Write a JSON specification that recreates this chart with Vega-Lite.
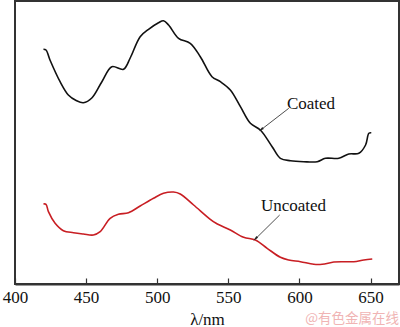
{
  "$schema": "https://vega.github.io/schema/vega-lite/v6.json",
  "width": 384,
  "height": 283,
  "autosize": {"type": "none"},
  "padding": {"left": 15, "top": 1, "right": 1, "bottom": 43},
  "background": "white",
  "config": {
    "view": {"stroke": "#333333", "strokeWidth": 2},
    "font": "Liberation Serif"
  },
  "title": {
    "text": "@有色金属在线",
    "orient": "bottom",
    "anchor": "end",
    "font": "Noto Sans CJK SC",
    "fontSize": 13.5,
    "fontWeight": "normal",
    "color": "#f0b4b4",
    "offset": -15
  },
  "datasets": {
    "spectra": [
      {"series": "Coated", "wl": 420, "v": 234.7},
      {"series": "Coated", "wl": 421.8, "v": 234},
      {"series": "Coated", "wl": 424.6, "v": 224},
      {"series": "Coated", "wl": 431.7, "v": 202.3},
      {"series": "Coated", "wl": 437.5, "v": 189},
      {"series": "Coated", "wl": 443, "v": 183.5},
      {"series": "Coated", "wl": 448.1, "v": 181.3},
      {"series": "Coated", "wl": 454, "v": 186},
      {"series": "Coated", "wl": 461.1, "v": 202.3},
      {"series": "Coated", "wl": 468.1, "v": 217.3},
      {"series": "Coated", "wl": 476.3, "v": 214.7},
      {"series": "Coated", "wl": 481, "v": 226},
      {"series": "Coated", "wl": 488, "v": 247.3},
      {"series": "Coated", "wl": 493.9, "v": 254.7},
      {"series": "Coated", "wl": 500.9, "v": 261.3},
      {"series": "Coated", "wl": 504.4, "v": 263.3},
      {"series": "Coated", "wl": 508, "v": 259},
      {"series": "Coated", "wl": 515, "v": 245.7},
      {"series": "Coated", "wl": 523.2, "v": 240.7},
      {"series": "Coated", "wl": 530.3, "v": 227.3},
      {"series": "Coated", "wl": 538.5, "v": 207.3},
      {"series": "Coated", "wl": 544.4, "v": 202.3},
      {"series": "Coated", "wl": 551.4, "v": 194},
      {"series": "Coated", "wl": 558.5, "v": 177.3},
      {"series": "Coated", "wl": 565.5, "v": 160.7},
      {"series": "Coated", "wl": 572.5, "v": 154},
      {"series": "Coated", "wl": 580.8, "v": 137.3},
      {"series": "Coated", "wl": 586.6, "v": 125.7},
      {"series": "Coated", "wl": 593.7, "v": 123.3},
      {"series": "Coated", "wl": 603, "v": 122.3},
      {"series": "Coated", "wl": 612.5, "v": 122.3},
      {"series": "Coated", "wl": 618.3, "v": 125.7},
      {"series": "Coated", "wl": 627.7, "v": 125.7},
      {"series": "Coated", "wl": 634.7, "v": 130},
      {"series": "Coated", "wl": 641.8, "v": 130.7},
      {"series": "Coated", "wl": 646.5, "v": 139},
      {"series": "Coated", "wl": 648.8, "v": 150.7},
      {"series": "Coated", "wl": 650.5, "v": 151.3},
      {"series": "Uncoated", "wl": 420, "v": 80},
      {"series": "Uncoated", "wl": 421.8, "v": 79.7},
      {"series": "Uncoated", "wl": 423.5, "v": 72.3},
      {"series": "Uncoated", "wl": 428.2, "v": 60.7},
      {"series": "Uncoated", "wl": 434, "v": 53.3},
      {"series": "Uncoated", "wl": 441.1, "v": 51.3},
      {"series": "Uncoated", "wl": 448.1, "v": 50},
      {"series": "Uncoated", "wl": 455.1, "v": 49},
      {"series": "Uncoated", "wl": 459.9, "v": 52.3},
      {"series": "Uncoated", "wl": 466.9, "v": 65.7},
      {"series": "Uncoated", "wl": 472.7, "v": 69.7},
      {"series": "Uncoated", "wl": 479.8, "v": 71.3},
      {"series": "Uncoated", "wl": 488, "v": 78},
      {"series": "Uncoated", "wl": 497.4, "v": 85.7},
      {"series": "Uncoated", "wl": 504.4, "v": 90.7},
      {"series": "Uncoated", "wl": 511.5, "v": 92},
      {"series": "Uncoated", "wl": 516.2, "v": 90},
      {"series": "Uncoated", "wl": 525.6, "v": 79},
      {"series": "Uncoated", "wl": 537.3, "v": 64.7},
      {"series": "Uncoated", "wl": 541.4, "v": 60.7},
      {"series": "Uncoated", "wl": 551.4, "v": 54},
      {"series": "Uncoated", "wl": 560.8, "v": 46.7},
      {"series": "Uncoated", "wl": 569, "v": 44},
      {"series": "Uncoated", "wl": 577.3, "v": 35.7},
      {"series": "Uncoated", "wl": 586.6, "v": 26.7},
      {"series": "Uncoated", "wl": 592.5, "v": 24},
      {"series": "Uncoated", "wl": 600.7, "v": 22.3},
      {"series": "Uncoated", "wl": 610.1, "v": 19.7},
      {"series": "Uncoated", "wl": 616, "v": 19.7},
      {"series": "Uncoated", "wl": 624.2, "v": 22},
      {"series": "Uncoated", "wl": 631.2, "v": 22.3},
      {"series": "Uncoated", "wl": 638.2, "v": 22.3},
      {"series": "Uncoated", "wl": 645.3, "v": 24},
      {"series": "Uncoated", "wl": 651.2, "v": 25}
    ]
  },
  "layer": [
    {
      "data": {"name": "spectra"},
      "mark": {"type": "line", "strokeWidth": 1.6, "interpolate": "catmull-rom"},
      "encoding": {
        "x": {
          "field": "wl",
          "type": "quantitative",
          "scale": {"domain": [400, 670], "nice": false, "zero": false},
          "axis": {
            "values": [400, 450, 500, 550, 600, 650],
            "title": "λ/nm",
            "titleFont": "Liberation Serif",
            "titleFontSize": 17,
            "titleFontWeight": "normal",
            "titleColor": "#111111",
            "titlePadding": 6,
            "labelFont": "Liberation Serif",
            "labelFontSize": 17,
            "labelColor": "#111111",
            "labelPadding": 11,
            "tickSize": -6,
            "tickColor": "#333333",
            "tickWidth": 1.2,
            "domainColor": "#333333",
            "domainWidth": 2,
            "grid": false,
            "labelFlush": false
          }
        },
        "y": {
          "field": "v",
          "type": "quantitative",
          "scale": {"domain": [0, 283], "nice": false, "zero": false},
          "axis": null
        },
        "color": {
          "field": "series",
          "type": "nominal",
          "scale": {"domain": ["Coated", "Uncoated"], "range": ["#111111", "#c81e23"]},
          "legend": null
        }
      }
    },
    {
      "data": {"values": [
        {"label": "Coated", "wl": 608.1, "v": 180},
        {"label": "Uncoated", "wl": 595.8, "v": 78}
      ]},
      "mark": {"type": "text", "font": "Liberation Serif", "fontSize": 17, "align": "center", "baseline": "middle", "color": "#111111"},
      "encoding": {
        "x": {"field": "wl", "type": "quantitative"},
        "y": {"field": "v", "type": "quantitative"},
        "text": {"field": "label"}
      }
    },
    {
      "data": {"values": [
        {"wl": 592.5, "v": 175.7, "wl2": 573.5, "v2": 154.8},
        {"wl": 586.1, "v": 69, "wl2": 569.5, "v2": 45.7}
      ]},
      "mark": {"type": "rule", "strokeWidth": 0.8, "color": "#222222"},
      "encoding": {
        "x": {"field": "wl", "type": "quantitative"},
        "y": {"field": "v", "type": "quantitative"},
        "x2": {"field": "wl2"},
        "y2": {"field": "v2"}
      }
    },
    {
      "data": {"values": [{"wl": 573.2, "v": 154.6}]},
      "mark": {"type": "point", "shape": "M0,-1L0.4,0.7L-0.4,0.7Z", "filled": true, "size": 40, "angle": 233, "color": "#222222", "opacity": 1},
      "encoding": {
        "x": {"field": "wl", "type": "quantitative"},
        "y": {"field": "v", "type": "quantitative"}
      }
    },
    {
      "data": {"values": [{"wl": 569.2, "v": 45.5}]},
      "mark": {"type": "point", "shape": "M0,-1L0.4,0.7L-0.4,0.7Z", "filled": true, "size": 40, "angle": 226, "color": "#222222", "opacity": 1},
      "encoding": {
        "x": {"field": "wl", "type": "quantitative"},
        "y": {"field": "v", "type": "quantitative"}
      }
    }
  ]
}
